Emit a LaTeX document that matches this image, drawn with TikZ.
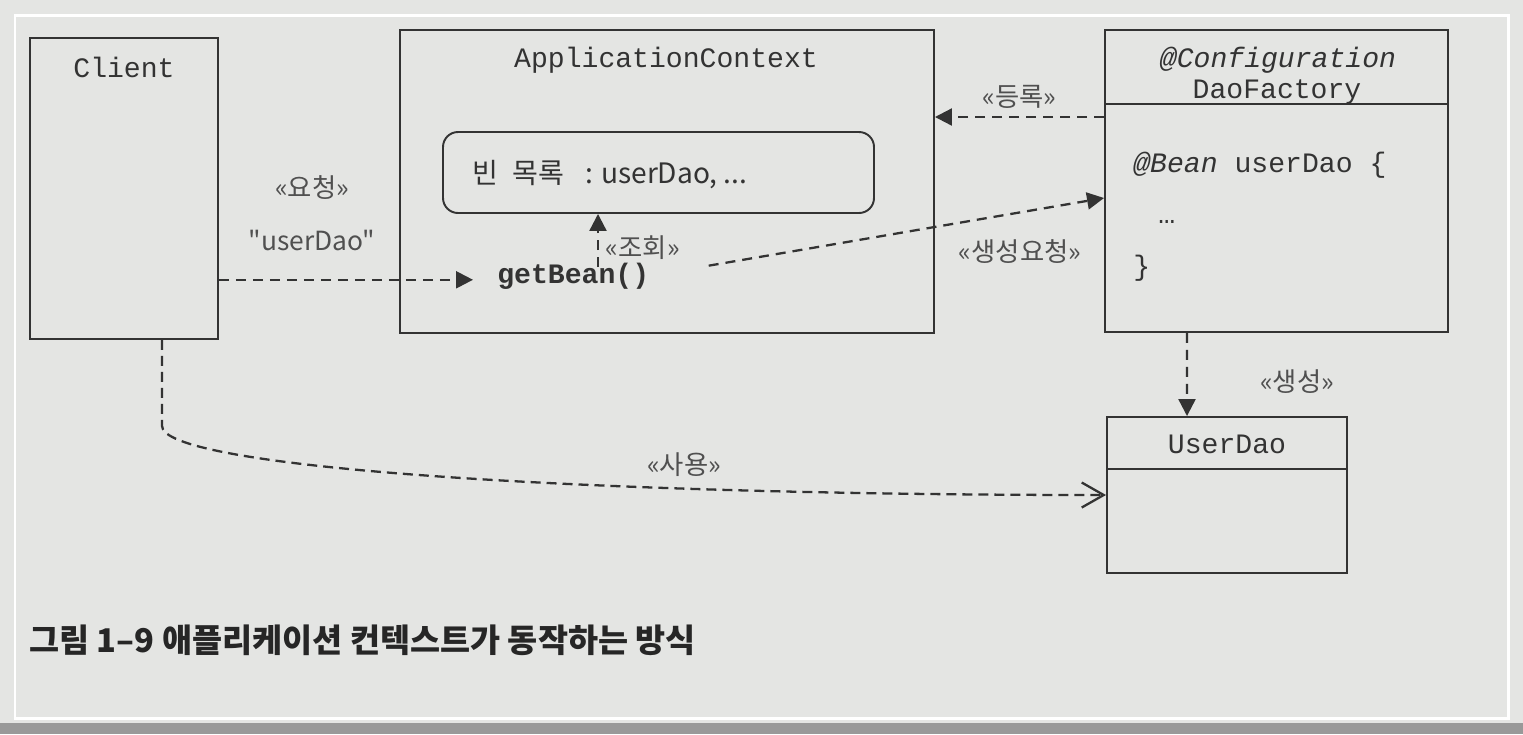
\documentclass[tikz,border=0pt]{standalone}
\usepackage{fontspec}
\setmonofont{Liberation Mono}
\newfontfamily\kr{Noto Sans CJK KR}
\usetikzlibrary{arrows.meta,positioning}
\definecolor{paper}{HTML}{E4E5E3}
\definecolor{ink}{HTML}{333333}
\definecolor{softink}{HTML}{505050}
\tikzset{classbox/.style = {rectangle, draw=ink, line width=1.1pt},
	beanbox/.style = {rectangle, rounded corners=0.3cm, draw=ink, line width=1.1pt},
	classline/.style = {draw=ink, line width=1.1pt},
	codetext/.style = {inner sep=0pt, text=ink, font=\ttfamily\fontsize{16}{19}\selectfont},
	stereo/.style = {inner sep=1pt, text=softink, font=\kr\fontsize{15}{18}\selectfont},
	depend/.style = {-{Triangle[length=3.4mm,width=3.4mm]}, draw=ink, line width=1.3pt, dash pattern=on 2mm off 1.4mm},
	uses/.style = {-{Straight Barb[length=4.4mm,width=5mm]}, draw=ink, line width=1.3pt, dash pattern=on 2mm off 1.2mm}}
\begin{document}
\begin{tikzpicture}

 \fill[paper] (0,0) rectangle (30.46,-14.68);
 \fill[black!40] (0,-14.46) rectangle (30.46,-14.68);
 \draw[white, line width=1.7pt] (0.3,-0.3) rectangle (30.16,-14.36);
 \useasboundingbox (0,0) rectangle (30.46,-14.68);

 \node (client) at (2.48,-3.77) [classbox, minimum width=3.76cm, minimum height=6.02cm] {};
 \node (clientname) at (2.48,-1.54) [codetext, anchor=base] {Client};
 \node (req) at (6.24,-3.76) [stereo] {«요청»};
 \node (reqname) at (6.24,-4.8) [stereo] {"userDao"};

 \node (app) at (13.34,-3.63) [classbox, minimum width=10.68cm, minimum height=6.06cm] {};
 \node (appname) at (13.32,-1.34) [codetext, anchor=base] {ApplicationContext};
 \node (beans) at (13.17,-3.45) [beanbox, minimum width=8.62cm, minimum height=1.62cm] {};
 \node (beanlist) at (9.44,-3.5) [anchor=west, inner sep=0pt, text=ink, font=\kr\fontsize{16}{19}\selectfont]
  {빈\hspace{0.3em} 목록\hspace{0.5em} : userDao, ...};
 \node (getbean) at (9.94,-5.66) [codetext, anchor=base west, font=\ttfamily\bfseries\fontsize{16}{19}\selectfont] {getBean()};
 \coordinate (lookup) at (11.96,-5.34);
 \draw[depend] (lookup) -- (lookup |- beans.south) node[pos=0.37, right=0.1cm, stereo] {«조회»};
 \draw[depend, shorten >=0.48cm] ([yshift=-0.08cm]client.east |- getbean) -- ([yshift=-0.08cm]getbean.west);

 \node (factory) at (25.53,-3.62) [classbox, minimum width=6.86cm, minimum height=6.04cm] {};
 \draw[classline] ([yshift=1.54cm]factory.west) -- ([yshift=1.54cm]factory.east);
 \node (confname) at (25.56,-1.34) [codetext, anchor=base, font=\ttfamily\itshape\fontsize{16}{19}\selectfont] {@Configuration};
 \node (factoryname) at (25.54,-1.96) [codetext, anchor=base] {DaoFactory};
 \node (beanmethod) at (22.66,-3.44) [codetext, anchor=base west] {\textit{@Bean} userDao \{};
 \node (beanbody) at (23.16,-4.46) [codetext, anchor=base west] {…};
 \node (beanend) at (22.66,-5.5) [codetext, anchor=base west] {\}};

 \draw[depend] ([yshift=1.28cm]factory.west) -- ([yshift=1.28cm]factory.west -| app.east)
  node[midway, above=0.12cm, stereo] {«등록»};
 \draw[depend, shorten <=1.2cm] (getbean.east) -- ([yshift=-0.34cm]factory.west);
 \node (createreq) at (20.4,-5.04) [stereo] {«생성요청»};

 \node (userdao) at (24.54,-9.9) [classbox, minimum width=4.8cm, minimum height=3.12cm] {};
 \draw[classline] ([yshift=0.52cm]userdao.west) -- ([yshift=0.52cm]userdao.east);
 \node (userdaoname) at (24.54,-9.06) [codetext, anchor=base] {UserDao};
 \draw[depend] ([xshift=-1.79cm]factory.south) -- ([xshift=-0.8cm]userdao.north);
 \node (create) at (25.94,-7.64) [stereo] {«생성»};

 \draw[uses] ([xshift=0.76cm]client.south) -- ++(0,-1.72) .. controls +(0,-0.8) and +(-11.1,0) .. (userdao.west);
 \node (use) at (13.68,-9.3) [stereo] {«사용»};

 \node (caption) at (0.58,-12.8) [anchor=west, inner sep=0pt, text=black!85, font=\kr\bfseries\fontsize{18.6}{22}\selectfont] {그림 1–9 애플리케이션 컨텍스트가 동작하는 방식};

\end{tikzpicture}
\end{document}
